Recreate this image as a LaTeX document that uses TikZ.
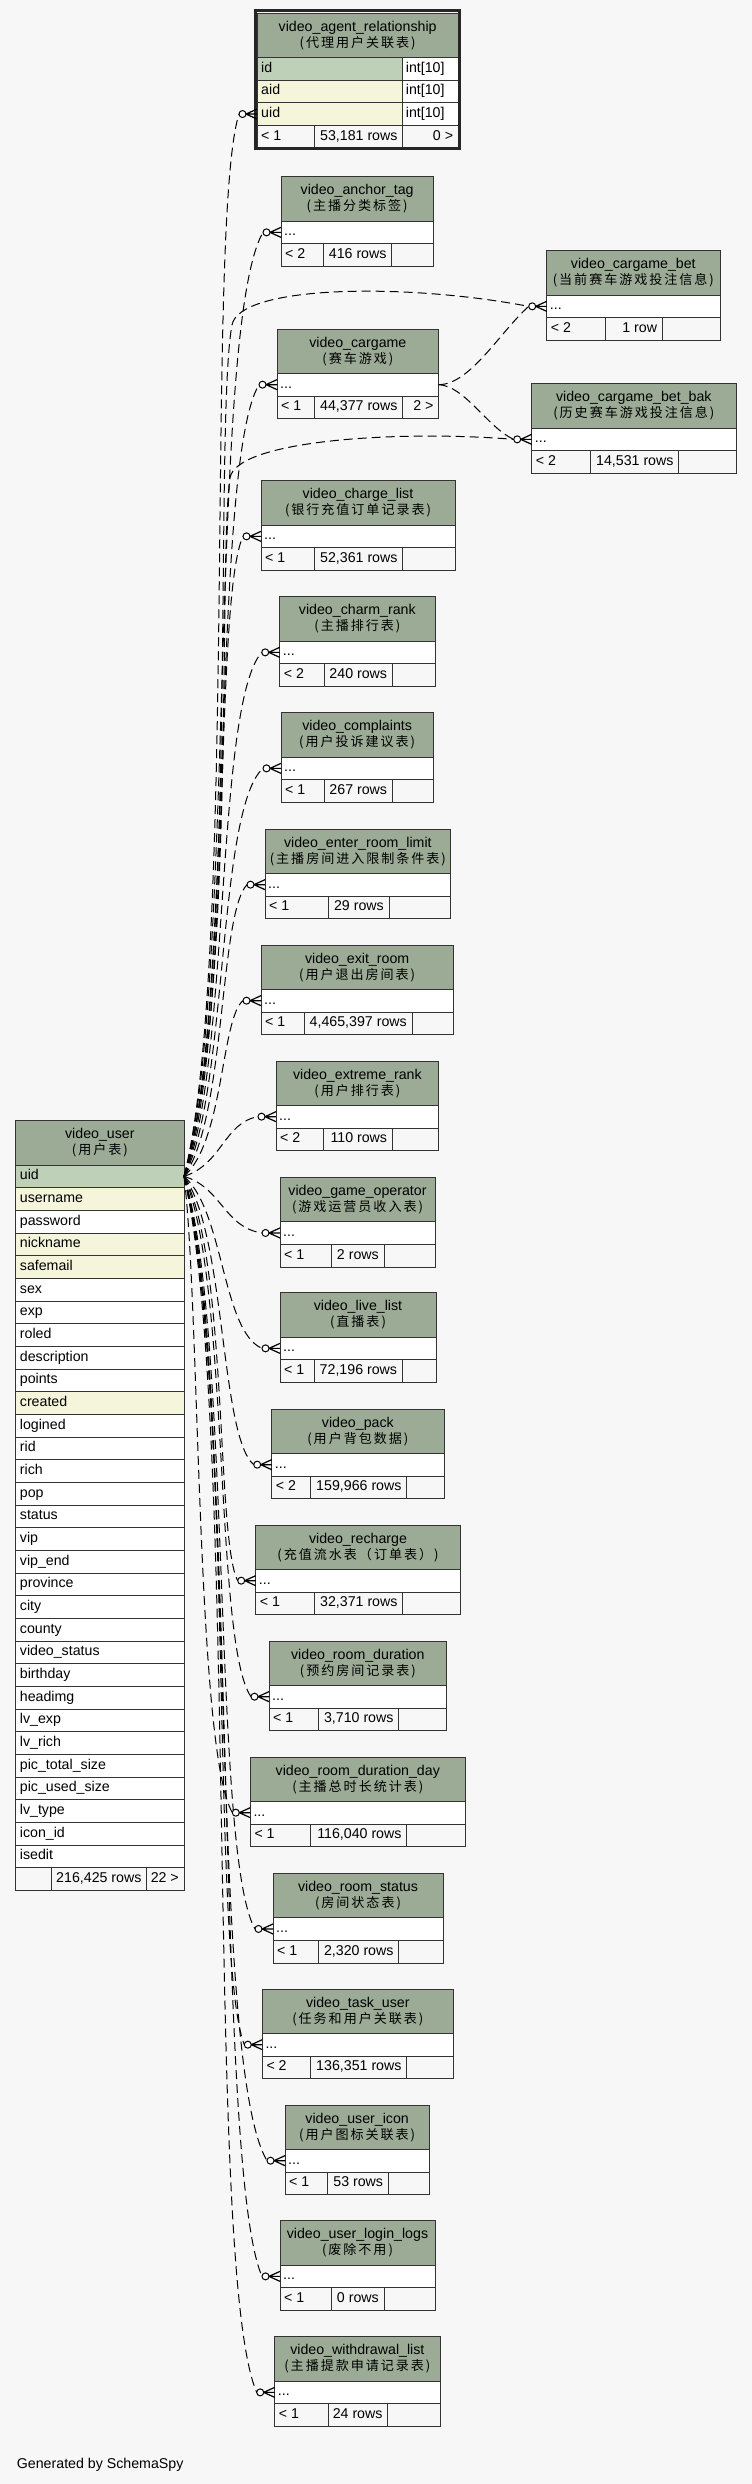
\documentclass[tikz,border=0pt]{standalone}
\usepackage{fontspec}
\setmainfont{Liberation Sans}
\newfontfamily\cjk[LetterSpace=15,Scale=0.92]{Noto Sans CJK SC}
\usepackage{tikz}

\definecolor{bgcol}{HTML}{F7F7F7}
\definecolor{headcol}{HTML}{9BAB96}
\definecolor{pkcol}{HTML}{BED1B8}
\definecolor{idxcol}{HTML}{F5F5DC}

\begin{document}
\begin{tikzpicture}[x=1pt, y=-1pt, font=\fontsize{14.2}{16}\selectfont,
 tablehead/.style={draw=black!80, line width=1pt, fill=headcol, anchor=north west, inner sep=0pt, outer sep=0pt, minimum height=44.3, align=center},
 tablecell/.style={draw=black!80, line width=1pt, anchor=north west, inner sep=0pt, outer sep=0pt, minimum height=22.7},
 tableline/.style={draw=black!80, line width=1pt},
 celltext/.style={inner sep=0pt, text height=10pt, text depth=3pt},
 fkline/.style={black, line width=1pt, dash pattern=on 9pt off 5pt},
 crowfoot/.style={black, line width=1.2pt}]

\fill[bgcol] (0,0) rectangle (752,2484);
\useasboundingbox (0,0) rectangle (752,2484);

% video_user
\node[tablehead, minimum width=168.3] (user-head) at (15.7,1120.7) {video\_user\\\cjk(用户表)};
\node[tablecell, fill=pkcol, minimum width=168.3, minimum height=22.67] (user-uid) at (15.7,1165) {};
\node[celltext, anchor=west] at ([xshift=4pt]user-uid.west) {uid};
\foreach \lbl/\fillc [count=\i] in {username/idxcol, password/white, nickname/idxcol, safemail/idxcol, sex/white, exp/white, roled/white, description/white, points/white, created/idxcol, logined/white, rid/white, rich/white, pop/white, status/white, vip/white, vip\_end/white, province/white, city/white, county/white, video\_status/white, birthday/white, headimg/white, lv\_exp/white, lv\_rich/white, pic\_total\_size/white, pic\_used\_size/white, lv\_type/white, icon\_id/white, isedit/white}
{
 \node[tablecell, fill=\fillc, minimum width=168.3, minimum height=22.67] (user-\i) at (15.7,1165+22.67*\i) {};
 \node[celltext, anchor=west] at ([xshift=4pt]user-\i.west) {\lbl};
}
\draw[tableline] (15.7,1867.8) rectangle (51,1890.5) (51,1867.8) rectangle (146.7,1890.5) (146.7,1867.8) rectangle (184,1890.5);
\node[celltext, anchor=east] at (141.7,1879.1) {216,425 rows};
\node[celltext, anchor=east] at (179,1879.1) {22 >};

% video_agent_relationship
\node[tablehead, minimum width=201.3] (agent-head) at (257,13) {video\_agent\_relationship\\\cjk(代理用户关联表)};
\foreach \lbl/\fillc [count=\i from 0] in {id/pkcol, aid/idxcol, uid/idxcol}
{
 \node[tablecell, fill=\fillc, minimum width=145.7] (agent-\lbl) at (257,57.3+22.7*\i) {};
 \node[celltext, anchor=west] at ([xshift=4pt]agent-\lbl.west) {\lbl};
 \node[tablecell, fill=white, minimum width=55.6] (agent-\lbl-type) at (402.7,57.3+22.7*\i) {};
 \node[celltext, anchor=west] at ([xshift=3pt]agent-\lbl-type.west) {int[10]};
}
\draw[tableline] (257,125.4) rectangle (314.3,148.1) (314.3,125.4) rectangle (402.7,148.1) (402.7,125.4) rectangle (458.3,148.1);
\node[celltext, anchor=west] at (261,136.75) {< 1};
\node[celltext, anchor=east] at (397.7,136.75) {53,181 rows};
\node[celltext, anchor=east] at (453.3,136.75) {0 >};
\draw[black!85, line width=2.8pt] (255.4,10.7) rectangle (459.6,148.6);

% child tables
\foreach \nm/\ttl/\cn/\xl/\xr/\yt/\spa/\spb/\lft/\rws/\rgt in {
 anchortag/video\_anchor\_tag/主播分类标签/281/433.3/176.7/323.3/391.7/2/416 rows/{},
 cargamebet/video\_cargame\_bet/当前赛车游戏投注信息/546.7/720/250.7/605/662.3/2/1 row/{},
 cargame/video\_cargame/赛车游戏/277/438.7/329/314.3/402.7/1/{44,377 rows}/2 >,
 cargamebetbak/video\_cargame\_bet\_bak/历史赛车游戏投注信息/531.7/736/383.7/590.7/678.7/2/{14,531 rows}/{},
 chargelist/video\_charge\_list/银行充值订单记录表/261/455/480.7/314.7/402.7/1/{52,361 rows}/{},
 charmrank/video\_charm\_rank/主播排行表/279.7/435/596.7/324/392.3/2/240 rows/{},
 complaints/video\_complaints/用户投诉建议表/281/433.3/712.7/324.3/392.3/1/267 rows/{},
 enterroomlimit/video\_enter\_room\_limit/主播房间进入限制条件表/265/450.7/829/328/389/1/29 rows/{},
 exitroom/video\_exit\_room/用户退出房间表/261/453.3/945/304/412/1/{4,465,397 rows}/{},
 extremerank/video\_extreme\_rank/用户排行表/276/438.7/1061/323.7/392.3/2/110 rows/{},
 gameoperator/video\_game\_operator/游戏运营员收入表/280/435/1177.3/331.7/384/1/2 rows/{},
 livelist/video\_live\_list/直播表/280/436/1292.7/314.3/402.3/1/{72,196 rows}/{},
 pack/video\_pack/用户背包数据/271.7/444/1409/310.3/406.7/2/{159,966 rows}/{},
 recharge/video\_recharge/充值流水表（订单表）/255.7/460.3/1525/314.7/402.7/1/{32,371 rows}/{},
 roomduration/video\_room\_duration/预约房间记录表/269/446.7/1641/318.7/398.7/1/{3,710 rows}/{},
 roomdurationday/video\_room\_duration\_day/主播总时长统计表/250.3/465.3/1757/310.7/406.7/1/{116,040 rows}/{},
 roomstatus/video\_room\_status/房间状态表/273/443/1873.3/318.3/398.7/1/{2,320 rows}/{},
 taskuser/video\_task\_user/任务和用户关联表/262.3/453.3/1989/310.7/406.7/2/{136,351 rows}/{},
 usericon/video\_user\_icon/用户图标关联表/285/429.3/2105/327.7/388.3/1/53 rows/{},
 userloginlogs/video\_user\_login\_logs/废除不用/280/435/2220.7/331.7/384/1/0 rows/{},
 withdrawallist/video\_withdrawal\_list/主播提款申请记录表/274.7/440/2336.7/328/387.7/1/24 rows/{}}
{
 \node[tablehead, minimum width=\xr-\xl] (\nm-head) at (\xl,\yt) {\ttl\\\cjk(\cn)};
 \node[tablecell, fill=white, minimum width=\xr-\xl] (\nm) at (\xl,\yt+44.3) {};
 \node[celltext, anchor=west] at ([xshift=3pt]\nm.west) {...};
 \draw[tableline] (\xl,\yt+67) rectangle (\spa,\yt+89.7) (\spa,\yt+67) rectangle (\spb,\yt+89.7) (\spb,\yt+67) rectangle (\xr,\yt+89.7);
 \node[celltext, anchor=west] at (\xl+4,\yt+78.35) {< \lft};
 \node[celltext, anchor=east] at (\spb-5,\yt+78.35) {\rws};
 \node[celltext, anchor=east] at (\xr-5,\yt+78.35) {\rgt};
}

% foreign keys to video_user.uid
\foreach \tbl/\ty/\ca/\cb [evaluate=\ty as \ya using 1176.3+0.2*(\ty-1176.3), evaluate=\ty as \yb using \ty-0.1*(\ty-1176.3)] in {
 agent-uid/114/238/205, anchortag/232.4/236/208, cargame/384.7/234/211, chargelist/536.4/232/213,
 charmrank/652.4/230/215, complaints/768.4/228/217, enterroomlimit/884.7/226/219, exitroom/1000.7/224/221,
 extremerank/1116.7/222/224, gameoperator/1233/222/224, livelist/1348.4/224/222, pack/1464.7/226/220,
 recharge/1580.7/228/216, roomduration/1696.7/230/214, roomdurationday/1812.7/200/196, roomstatus/1929/232/212,
 taskuser/2044.7/234/210, usericon/2160.7/236/208, userloginlogs/2276.4/238/214, withdrawallist/2392.4/240/204}
 \draw[fkline] (user-uid.east) .. controls (\ca,\ya) and (\cb,\yb) .. ([xshift=-18pt]\tbl.west);

\draw[fkline] (user-uid.east) .. controls (238,1000) and (214,420) .. (232,325) .. controls (239,286) and (400,282) .. ([xshift=-18pt]cargamebet.west);
\draw[fkline] (user-uid.east) .. controls (236,1000) and (218,560) .. (230,478) .. controls (236,440) and (400,430) .. ([xshift=-18pt]cargamebetbak.west);
\draw[fkline] (cargame.east) .. controls (470,384.7) and (500,332) .. ([xshift=-18pt]cargamebet.west);
\draw[fkline] (cargame.east) .. controls (465,386) and (488,428) .. ([xshift=-18pt]cargamebetbak.west);

% crow's feet
\foreach \tbl in {agent-uid, anchortag, cargamebet, cargame, cargamebetbak, chargelist, charmrank, complaints, enterroomlimit, exitroom, extremerank, gameoperator, livelist, pack, recharge, roomduration, roomdurationday, roomstatus, taskuser, usericon, userloginlogs, withdrawallist}
{
 \draw[crowfoot] ([xshift=-11pt]\tbl.west) -- ([yshift=5pt]\tbl.west) ([xshift=-11pt]\tbl.west) -- (\tbl.west) ([xshift=-11pt]\tbl.west) -- ([yshift=-5pt]\tbl.west);
 \draw[black, line width=1pt, fill=white] ([xshift=-14.5pt]\tbl.west) circle[radius=3.5pt];
}

\node[celltext, anchor=base west] (credit) at (16.7,2468) {Generated by SchemaSpy};

\end{tikzpicture}
\end{document}
